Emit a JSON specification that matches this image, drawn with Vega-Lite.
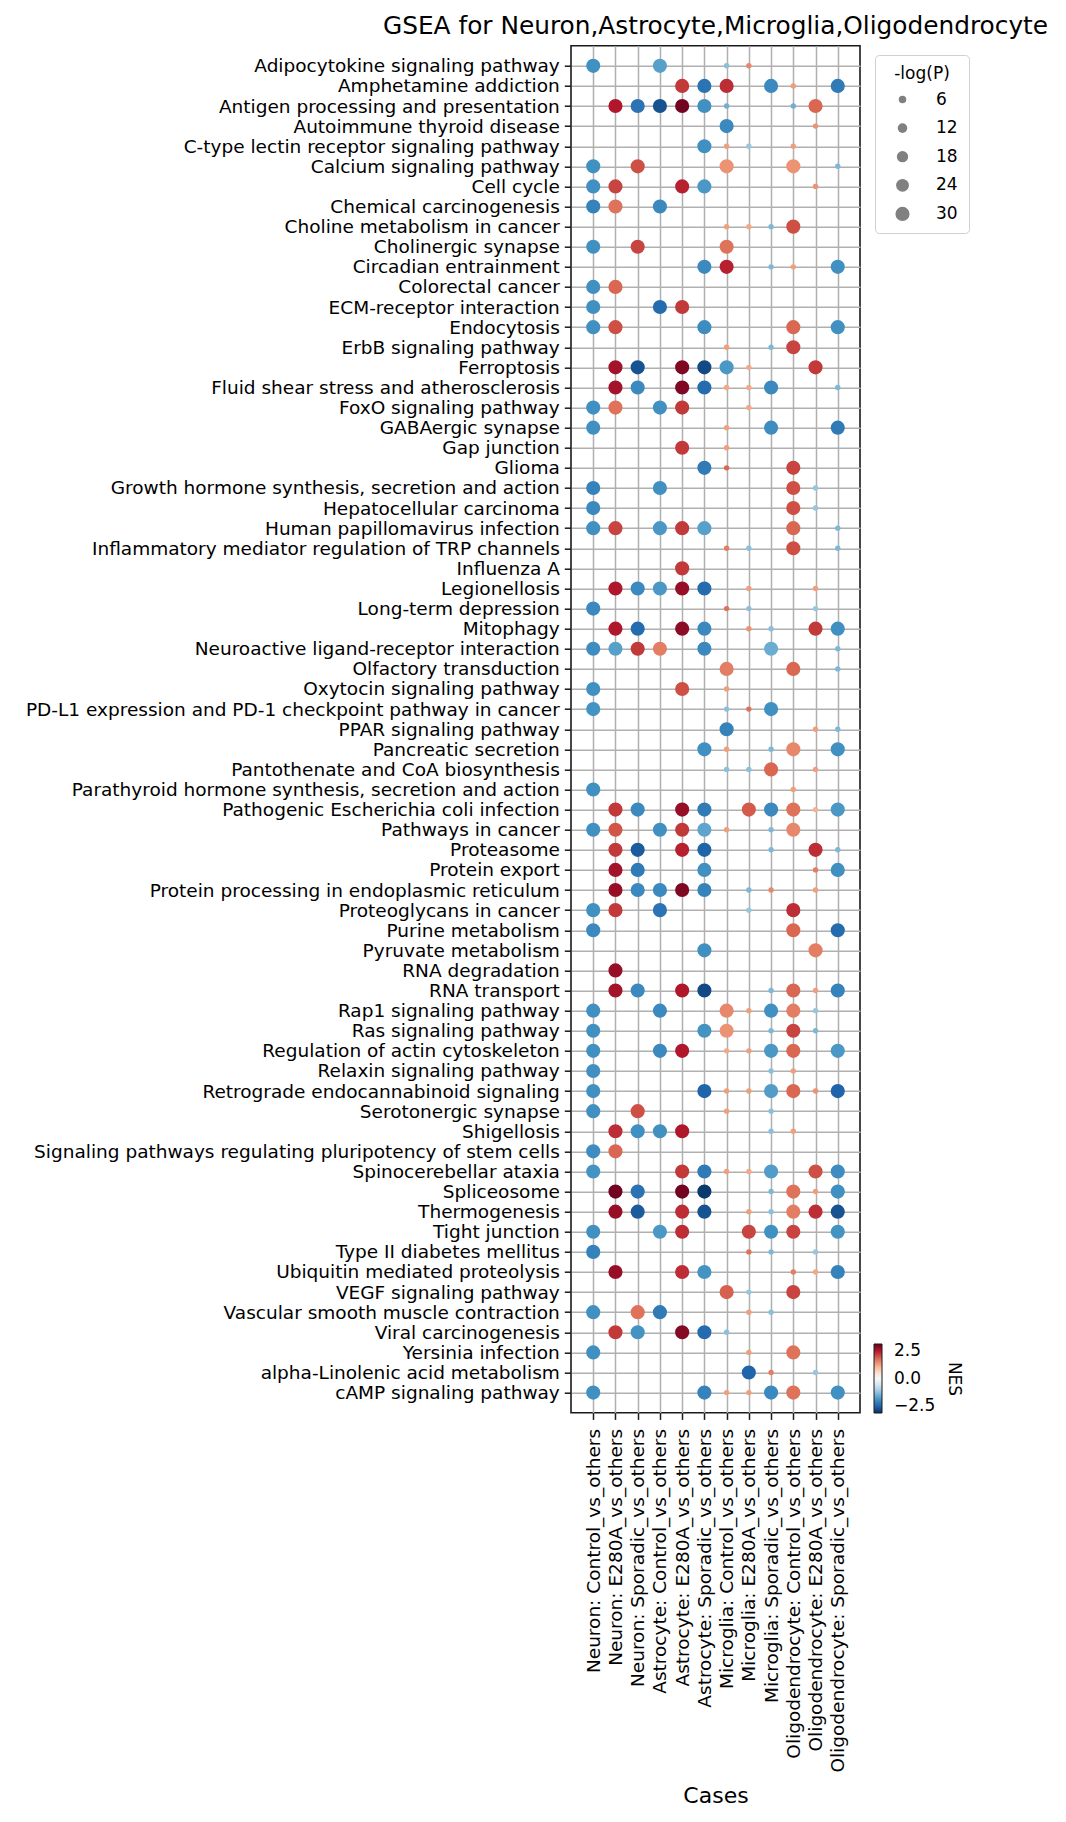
{
"$schema": "https://vega.github.io/schema/vega-lite/v6.json",
"width": 289, "height": 1367,
"autosize": {"type": "none"},
"padding": {"left": 571, "top": 45.7, "right": 206, "bottom": 409.3},
"background": "white",
"title": {"text": "GSEA for Neuron,Astrocyte,Microglia,Oligodendrocyte", "fontSize": 24.8, "font": "DejaVu Sans", "fontWeight": "normal", "color": "black", "anchor": "middle", "frame": "group", "offset": 7},
"config": {
  "font": "DejaVu Sans",
  "view": {"stroke": "#1a1a1a", "strokeWidth": 1.6},
  "axis": {"grid": true, "gridColor": "#b0b0b0", "gridWidth": 1.5, "domain": false, "ticks": true, "tickSize": 6.7, "tickColor": "#1a1a1a", "tickWidth": 1.5, "labelFont": "DejaVu Sans", "labelFontSize": 18.5, "labelColor": "black", "labelLimit": 1000, "labelOverlap": false, "zindex": 1, "titleFont": "DejaVu Sans", "titleFontWeight": "normal", "titleColor": "black"},
  "legend": {"labelFont": "DejaVu Sans", "titleFont": "DejaVu Sans", "labelColor": "black", "titleColor": "black", "titleFontWeight": "normal"}
},
"data": {"values": [
{"pathway":"Adipocytokine signaling pathway","case":"Neuron: Control_vs_others","NES":-1.9,"neglogP":30},
{"pathway":"Adipocytokine signaling pathway","case":"Astrocyte: Control_vs_others","NES":-1.7,"neglogP":30},
{"pathway":"Adipocytokine signaling pathway","case":"Microglia: Control_vs_others","NES":-1.3,"neglogP":1.5},
{"pathway":"Adipocytokine signaling pathway","case":"Microglia: E280A_vs_others","NES":1.5,"neglogP":1.5},
{"pathway":"Amphetamine addiction","case":"Astrocyte: E280A_vs_others","NES":2.2,"neglogP":30},
{"pathway":"Amphetamine addiction","case":"Astrocyte: Sporadic_vs_others","NES":-2.3,"neglogP":30},
{"pathway":"Amphetamine addiction","case":"Microglia: Control_vs_others","NES":2.3,"neglogP":30},
{"pathway":"Amphetamine addiction","case":"Microglia: Sporadic_vs_others","NES":-2.0,"neglogP":30},
{"pathway":"Amphetamine addiction","case":"Oligodendrocyte: Control_vs_others","NES":1.3,"neglogP":1.5},
{"pathway":"Amphetamine addiction","case":"Oligodendrocyte: Sporadic_vs_others","NES":-2.2,"neglogP":30},
{"pathway":"Antigen processing and presentation","case":"Neuron: E280A_vs_others","NES":2.5,"neglogP":30},
{"pathway":"Antigen processing and presentation","case":"Neuron: Sporadic_vs_others","NES":-2.3,"neglogP":30},
{"pathway":"Antigen processing and presentation","case":"Astrocyte: Control_vs_others","NES":-2.7,"neglogP":30},
{"pathway":"Antigen processing and presentation","case":"Astrocyte: E280A_vs_others","NES":3.0,"neglogP":30},
{"pathway":"Antigen processing and presentation","case":"Astrocyte: Sporadic_vs_others","NES":-1.9,"neglogP":30},
{"pathway":"Antigen processing and presentation","case":"Microglia: Control_vs_others","NES":-1.5,"neglogP":1.5},
{"pathway":"Antigen processing and presentation","case":"Oligodendrocyte: Control_vs_others","NES":-1.5,"neglogP":1.5},
{"pathway":"Antigen processing and presentation","case":"Oligodendrocyte: E280A_vs_others","NES":1.8,"neglogP":30},
{"pathway":"Autoimmune thyroid disease","case":"Microglia: Control_vs_others","NES":-2.0,"neglogP":30},
{"pathway":"Autoimmune thyroid disease","case":"Oligodendrocyte: E280A_vs_others","NES":1.4,"neglogP":1.5},
{"pathway":"C-type lectin receptor signaling pathway","case":"Astrocyte: Sporadic_vs_others","NES":-1.9,"neglogP":30},
{"pathway":"C-type lectin receptor signaling pathway","case":"Microglia: Control_vs_others","NES":1.3,"neglogP":1.5},
{"pathway":"C-type lectin receptor signaling pathway","case":"Microglia: E280A_vs_others","NES":-1.2,"neglogP":1.5},
{"pathway":"C-type lectin receptor signaling pathway","case":"Oligodendrocyte: Control_vs_others","NES":1.3,"neglogP":1.5},
{"pathway":"Calcium signaling pathway","case":"Neuron: Control_vs_others","NES":-1.9,"neglogP":30},
{"pathway":"Calcium signaling pathway","case":"Neuron: Sporadic_vs_others","NES":2.0,"neglogP":30},
{"pathway":"Calcium signaling pathway","case":"Microglia: Control_vs_others","NES":1.4,"neglogP":30},
{"pathway":"Calcium signaling pathway","case":"Oligodendrocyte: Control_vs_others","NES":1.4,"neglogP":30},
{"pathway":"Calcium signaling pathway","case":"Oligodendrocyte: Sporadic_vs_others","NES":-1.4,"neglogP":1.5},
{"pathway":"Cell cycle","case":"Neuron: Control_vs_others","NES":-1.9,"neglogP":30},
{"pathway":"Cell cycle","case":"Neuron: E280A_vs_others","NES":2.1,"neglogP":30},
{"pathway":"Cell cycle","case":"Astrocyte: E280A_vs_others","NES":2.4,"neglogP":30},
{"pathway":"Cell cycle","case":"Astrocyte: Sporadic_vs_others","NES":-1.8,"neglogP":30},
{"pathway":"Cell cycle","case":"Oligodendrocyte: E280A_vs_others","NES":1.4,"neglogP":1.5},
{"pathway":"Chemical carcinogenesis","case":"Neuron: Control_vs_others","NES":-2.1,"neglogP":30},
{"pathway":"Chemical carcinogenesis","case":"Neuron: E280A_vs_others","NES":1.7,"neglogP":30},
{"pathway":"Chemical carcinogenesis","case":"Astrocyte: Control_vs_others","NES":-2.0,"neglogP":30},
{"pathway":"Choline metabolism in cancer","case":"Microglia: Control_vs_others","NES":1.3,"neglogP":1.5},
{"pathway":"Choline metabolism in cancer","case":"Microglia: E280A_vs_others","NES":1.2,"neglogP":1.5},
{"pathway":"Choline metabolism in cancer","case":"Microglia: Sporadic_vs_others","NES":-1.4,"neglogP":1.5},
{"pathway":"Choline metabolism in cancer","case":"Oligodendrocyte: Control_vs_others","NES":2.0,"neglogP":30},
{"pathway":"Cholinergic synapse","case":"Neuron: Control_vs_others","NES":-1.9,"neglogP":30},
{"pathway":"Cholinergic synapse","case":"Neuron: Sporadic_vs_others","NES":2.1,"neglogP":30},
{"pathway":"Cholinergic synapse","case":"Microglia: Control_vs_others","NES":1.7,"neglogP":30},
{"pathway":"Circadian entrainment","case":"Astrocyte: Sporadic_vs_others","NES":-2.0,"neglogP":30},
{"pathway":"Circadian entrainment","case":"Microglia: Control_vs_others","NES":2.4,"neglogP":30},
{"pathway":"Circadian entrainment","case":"Microglia: Sporadic_vs_others","NES":-1.4,"neglogP":1.5},
{"pathway":"Circadian entrainment","case":"Oligodendrocyte: Control_vs_others","NES":1.3,"neglogP":1.5},
{"pathway":"Circadian entrainment","case":"Oligodendrocyte: Sporadic_vs_others","NES":-1.9,"neglogP":30},
{"pathway":"Colorectal cancer","case":"Neuron: Control_vs_others","NES":-1.9,"neglogP":30},
{"pathway":"Colorectal cancer","case":"Neuron: E280A_vs_others","NES":1.8,"neglogP":30},
{"pathway":"ECM-receptor interaction","case":"Neuron: Control_vs_others","NES":-1.9,"neglogP":30},
{"pathway":"ECM-receptor interaction","case":"Astrocyte: Control_vs_others","NES":-2.4,"neglogP":30},
{"pathway":"ECM-receptor interaction","case":"Astrocyte: E280A_vs_others","NES":2.2,"neglogP":30},
{"pathway":"Endocytosis","case":"Neuron: Control_vs_others","NES":-1.9,"neglogP":30},
{"pathway":"Endocytosis","case":"Neuron: E280A_vs_others","NES":2.0,"neglogP":30},
{"pathway":"Endocytosis","case":"Astrocyte: Sporadic_vs_others","NES":-1.95,"neglogP":30},
{"pathway":"Endocytosis","case":"Oligodendrocyte: Control_vs_others","NES":1.8,"neglogP":30},
{"pathway":"Endocytosis","case":"Oligodendrocyte: Sporadic_vs_others","NES":-1.9,"neglogP":30},
{"pathway":"ErbB signaling pathway","case":"Microglia: Control_vs_others","NES":1.3,"neglogP":1.5},
{"pathway":"ErbB signaling pathway","case":"Microglia: Sporadic_vs_others","NES":-1.4,"neglogP":1.5},
{"pathway":"ErbB signaling pathway","case":"Oligodendrocyte: Control_vs_others","NES":2.1,"neglogP":30},
{"pathway":"Ferroptosis","case":"Neuron: E280A_vs_others","NES":2.6,"neglogP":30},
{"pathway":"Ferroptosis","case":"Neuron: Sporadic_vs_others","NES":-2.7,"neglogP":30},
{"pathway":"Ferroptosis","case":"Astrocyte: E280A_vs_others","NES":2.9,"neglogP":30},
{"pathway":"Ferroptosis","case":"Astrocyte: Sporadic_vs_others","NES":-2.8,"neglogP":30},
{"pathway":"Ferroptosis","case":"Microglia: Control_vs_others","NES":-1.8,"neglogP":30},
{"pathway":"Ferroptosis","case":"Microglia: E280A_vs_others","NES":1.2,"neglogP":1.5},
{"pathway":"Ferroptosis","case":"Oligodendrocyte: E280A_vs_others","NES":2.2,"neglogP":30},
{"pathway":"Fluid shear stress and atherosclerosis","case":"Neuron: E280A_vs_others","NES":2.6,"neglogP":30},
{"pathway":"Fluid shear stress and atherosclerosis","case":"Neuron: Sporadic_vs_others","NES":-2.0,"neglogP":30},
{"pathway":"Fluid shear stress and atherosclerosis","case":"Astrocyte: E280A_vs_others","NES":2.9,"neglogP":30},
{"pathway":"Fluid shear stress and atherosclerosis","case":"Astrocyte: Sporadic_vs_others","NES":-2.4,"neglogP":30},
{"pathway":"Fluid shear stress and atherosclerosis","case":"Microglia: Control_vs_others","NES":1.2,"neglogP":1.5},
{"pathway":"Fluid shear stress and atherosclerosis","case":"Microglia: E280A_vs_others","NES":1.2,"neglogP":1.5},
{"pathway":"Fluid shear stress and atherosclerosis","case":"Microglia: Sporadic_vs_others","NES":-2.0,"neglogP":30},
{"pathway":"Fluid shear stress and atherosclerosis","case":"Oligodendrocyte: Sporadic_vs_others","NES":-1.4,"neglogP":1.5},
{"pathway":"FoxO signaling pathway","case":"Neuron: Control_vs_others","NES":-1.9,"neglogP":30},
{"pathway":"FoxO signaling pathway","case":"Neuron: E280A_vs_others","NES":1.7,"neglogP":30},
{"pathway":"FoxO signaling pathway","case":"Astrocyte: Control_vs_others","NES":-1.9,"neglogP":30},
{"pathway":"FoxO signaling pathway","case":"Astrocyte: E280A_vs_others","NES":2.2,"neglogP":30},
{"pathway":"FoxO signaling pathway","case":"Microglia: E280A_vs_others","NES":1.2,"neglogP":1.5},
{"pathway":"GABAergic synapse","case":"Neuron: Control_vs_others","NES":-1.9,"neglogP":30},
{"pathway":"GABAergic synapse","case":"Microglia: Control_vs_others","NES":1.3,"neglogP":1.5},
{"pathway":"GABAergic synapse","case":"Microglia: Sporadic_vs_others","NES":-1.95,"neglogP":30},
{"pathway":"GABAergic synapse","case":"Oligodendrocyte: Sporadic_vs_others","NES":-2.2,"neglogP":30},
{"pathway":"Gap junction","case":"Astrocyte: E280A_vs_others","NES":2.2,"neglogP":30},
{"pathway":"Gap junction","case":"Microglia: Control_vs_others","NES":1.3,"neglogP":1.5},
{"pathway":"Glioma","case":"Astrocyte: Sporadic_vs_others","NES":-2.2,"neglogP":30},
{"pathway":"Glioma","case":"Microglia: Control_vs_others","NES":1.8,"neglogP":1.5},
{"pathway":"Glioma","case":"Oligodendrocyte: Control_vs_others","NES":2.1,"neglogP":30},
{"pathway":"Growth hormone synthesis, secretion and action","case":"Neuron: Control_vs_others","NES":-2.1,"neglogP":30},
{"pathway":"Growth hormone synthesis, secretion and action","case":"Astrocyte: Control_vs_others","NES":-1.9,"neglogP":30},
{"pathway":"Growth hormone synthesis, secretion and action","case":"Oligodendrocyte: Control_vs_others","NES":2.0,"neglogP":30},
{"pathway":"Growth hormone synthesis, secretion and action","case":"Oligodendrocyte: E280A_vs_others","NES":-1.2,"neglogP":1.5},
{"pathway":"Hepatocellular carcinoma","case":"Neuron: Control_vs_others","NES":-2.0,"neglogP":30},
{"pathway":"Hepatocellular carcinoma","case":"Oligodendrocyte: Control_vs_others","NES":2.0,"neglogP":30},
{"pathway":"Hepatocellular carcinoma","case":"Oligodendrocyte: E280A_vs_others","NES":-1.2,"neglogP":1.5},
{"pathway":"Human papillomavirus infection","case":"Neuron: Control_vs_others","NES":-1.9,"neglogP":30},
{"pathway":"Human papillomavirus infection","case":"Neuron: E280A_vs_others","NES":2.1,"neglogP":30},
{"pathway":"Human papillomavirus infection","case":"Astrocyte: Control_vs_others","NES":-1.8,"neglogP":30},
{"pathway":"Human papillomavirus infection","case":"Astrocyte: E280A_vs_others","NES":2.2,"neglogP":30},
{"pathway":"Human papillomavirus infection","case":"Astrocyte: Sporadic_vs_others","NES":-1.7,"neglogP":30},
{"pathway":"Human papillomavirus infection","case":"Oligodendrocyte: Control_vs_others","NES":1.8,"neglogP":30},
{"pathway":"Human papillomavirus infection","case":"Oligodendrocyte: Sporadic_vs_others","NES":-1.4,"neglogP":1.5},
{"pathway":"Inflammatory mediator regulation of TRP channels","case":"Microglia: Control_vs_others","NES":1.6,"neglogP":1.5},
{"pathway":"Inflammatory mediator regulation of TRP channels","case":"Microglia: E280A_vs_others","NES":-1.3,"neglogP":1.5},
{"pathway":"Inflammatory mediator regulation of TRP channels","case":"Oligodendrocyte: Control_vs_others","NES":2.0,"neglogP":30},
{"pathway":"Inflammatory mediator regulation of TRP channels","case":"Oligodendrocyte: Sporadic_vs_others","NES":-1.4,"neglogP":1.5},
{"pathway":"Influenza A","case":"Astrocyte: E280A_vs_others","NES":2.2,"neglogP":30},
{"pathway":"Legionellosis","case":"Neuron: E280A_vs_others","NES":2.5,"neglogP":30},
{"pathway":"Legionellosis","case":"Neuron: Sporadic_vs_others","NES":-2.0,"neglogP":30},
{"pathway":"Legionellosis","case":"Astrocyte: Control_vs_others","NES":-1.8,"neglogP":30},
{"pathway":"Legionellosis","case":"Astrocyte: E280A_vs_others","NES":2.7,"neglogP":30},
{"pathway":"Legionellosis","case":"Astrocyte: Sporadic_vs_others","NES":-2.4,"neglogP":30},
{"pathway":"Legionellosis","case":"Microglia: E280A_vs_others","NES":1.3,"neglogP":1.5},
{"pathway":"Legionellosis","case":"Oligodendrocyte: E280A_vs_others","NES":1.3,"neglogP":1.5},
{"pathway":"Long-term depression","case":"Neuron: Control_vs_others","NES":-2.0,"neglogP":30},
{"pathway":"Long-term depression","case":"Microglia: Control_vs_others","NES":1.7,"neglogP":1.5},
{"pathway":"Long-term depression","case":"Microglia: E280A_vs_others","NES":-1.3,"neglogP":1.5},
{"pathway":"Long-term depression","case":"Oligodendrocyte: E280A_vs_others","NES":-1.2,"neglogP":1.5},
{"pathway":"Mitophagy","case":"Neuron: E280A_vs_others","NES":2.5,"neglogP":30},
{"pathway":"Mitophagy","case":"Neuron: Sporadic_vs_others","NES":-2.4,"neglogP":30},
{"pathway":"Mitophagy","case":"Astrocyte: E280A_vs_others","NES":2.8,"neglogP":30},
{"pathway":"Mitophagy","case":"Astrocyte: Sporadic_vs_others","NES":-2.0,"neglogP":30},
{"pathway":"Mitophagy","case":"Microglia: E280A_vs_others","NES":1.4,"neglogP":1.5},
{"pathway":"Mitophagy","case":"Microglia: Sporadic_vs_others","NES":-1.3,"neglogP":1.5},
{"pathway":"Mitophagy","case":"Oligodendrocyte: E280A_vs_others","NES":2.2,"neglogP":30},
{"pathway":"Mitophagy","case":"Oligodendrocyte: Sporadic_vs_others","NES":-1.9,"neglogP":30},
{"pathway":"Neuroactive ligand-receptor interaction","case":"Neuron: Control_vs_others","NES":-1.95,"neglogP":30},
{"pathway":"Neuroactive ligand-receptor interaction","case":"Neuron: E280A_vs_others","NES":-1.7,"neglogP":30},
{"pathway":"Neuroactive ligand-receptor interaction","case":"Neuron: Sporadic_vs_others","NES":2.2,"neglogP":30},
{"pathway":"Neuroactive ligand-receptor interaction","case":"Astrocyte: Control_vs_others","NES":1.6,"neglogP":30},
{"pathway":"Neuroactive ligand-receptor interaction","case":"Astrocyte: Sporadic_vs_others","NES":-2.0,"neglogP":30},
{"pathway":"Neuroactive ligand-receptor interaction","case":"Microglia: Sporadic_vs_others","NES":-1.55,"neglogP":30},
{"pathway":"Neuroactive ligand-receptor interaction","case":"Oligodendrocyte: Sporadic_vs_others","NES":-1.4,"neglogP":1.5},
{"pathway":"Olfactory transduction","case":"Microglia: Control_vs_others","NES":1.6,"neglogP":30},
{"pathway":"Olfactory transduction","case":"Oligodendrocyte: Control_vs_others","NES":1.8,"neglogP":30},
{"pathway":"Olfactory transduction","case":"Oligodendrocyte: Sporadic_vs_others","NES":-1.4,"neglogP":1.5},
{"pathway":"Oxytocin signaling pathway","case":"Neuron: Control_vs_others","NES":-1.9,"neglogP":30},
{"pathway":"Oxytocin signaling pathway","case":"Astrocyte: E280A_vs_others","NES":2.0,"neglogP":30},
{"pathway":"Oxytocin signaling pathway","case":"Microglia: Control_vs_others","NES":1.3,"neglogP":1.5},
{"pathway":"PD-L1 expression and PD-1 checkpoint pathway in cancer","case":"Neuron: Control_vs_others","NES":-1.85,"neglogP":30},
{"pathway":"PD-L1 expression and PD-1 checkpoint pathway in cancer","case":"Microglia: Control_vs_others","NES":-1.3,"neglogP":1.5},
{"pathway":"PD-L1 expression and PD-1 checkpoint pathway in cancer","case":"Microglia: E280A_vs_others","NES":1.7,"neglogP":1.5},
{"pathway":"PD-L1 expression and PD-1 checkpoint pathway in cancer","case":"Microglia: Sporadic_vs_others","NES":-1.9,"neglogP":30},
{"pathway":"PPAR signaling pathway","case":"Microglia: Control_vs_others","NES":-2.1,"neglogP":30},
{"pathway":"PPAR signaling pathway","case":"Oligodendrocyte: E280A_vs_others","NES":1.3,"neglogP":1.5},
{"pathway":"PPAR signaling pathway","case":"Oligodendrocyte: Sporadic_vs_others","NES":-1.4,"neglogP":1.5},
{"pathway":"Pancreatic secretion","case":"Astrocyte: Sporadic_vs_others","NES":-1.9,"neglogP":30},
{"pathway":"Pancreatic secretion","case":"Microglia: Control_vs_others","NES":1.3,"neglogP":1.5},
{"pathway":"Pancreatic secretion","case":"Microglia: Sporadic_vs_others","NES":-1.4,"neglogP":1.5},
{"pathway":"Pancreatic secretion","case":"Oligodendrocyte: Control_vs_others","NES":1.5,"neglogP":30},
{"pathway":"Pancreatic secretion","case":"Oligodendrocyte: Sporadic_vs_others","NES":-1.9,"neglogP":30},
{"pathway":"Pantothenate and CoA biosynthesis","case":"Microglia: Control_vs_others","NES":-1.3,"neglogP":1.5},
{"pathway":"Pantothenate and CoA biosynthesis","case":"Microglia: E280A_vs_others","NES":-1.3,"neglogP":1.5},
{"pathway":"Pantothenate and CoA biosynthesis","case":"Microglia: Sporadic_vs_others","NES":1.8,"neglogP":30},
{"pathway":"Pantothenate and CoA biosynthesis","case":"Oligodendrocyte: E280A_vs_others","NES":1.3,"neglogP":1.5},
{"pathway":"Parathyroid hormone synthesis, secretion and action","case":"Neuron: Control_vs_others","NES":-1.9,"neglogP":30},
{"pathway":"Parathyroid hormone synthesis, secretion and action","case":"Oligodendrocyte: Control_vs_others","NES":1.3,"neglogP":1.5},
{"pathway":"Pathogenic Escherichia coli infection","case":"Neuron: E280A_vs_others","NES":2.2,"neglogP":30},
{"pathway":"Pathogenic Escherichia coli infection","case":"Neuron: Sporadic_vs_others","NES":-2.0,"neglogP":30},
{"pathway":"Pathogenic Escherichia coli infection","case":"Astrocyte: E280A_vs_others","NES":2.7,"neglogP":30},
{"pathway":"Pathogenic Escherichia coli infection","case":"Astrocyte: Sporadic_vs_others","NES":-2.2,"neglogP":30},
{"pathway":"Pathogenic Escherichia coli infection","case":"Microglia: E280A_vs_others","NES":1.9,"neglogP":30},
{"pathway":"Pathogenic Escherichia coli infection","case":"Microglia: Sporadic_vs_others","NES":-2.0,"neglogP":30},
{"pathway":"Pathogenic Escherichia coli infection","case":"Oligodendrocyte: Control_vs_others","NES":1.7,"neglogP":30},
{"pathway":"Pathogenic Escherichia coli infection","case":"Oligodendrocyte: E280A_vs_others","NES":1.1,"neglogP":1.5},
{"pathway":"Pathogenic Escherichia coli infection","case":"Oligodendrocyte: Sporadic_vs_others","NES":-1.8,"neglogP":30},
{"pathway":"Pathways in cancer","case":"Neuron: Control_vs_others","NES":-1.9,"neglogP":30},
{"pathway":"Pathways in cancer","case":"Neuron: E280A_vs_others","NES":1.95,"neglogP":30},
{"pathway":"Pathways in cancer","case":"Astrocyte: Control_vs_others","NES":-1.9,"neglogP":30},
{"pathway":"Pathways in cancer","case":"Astrocyte: E280A_vs_others","NES":2.2,"neglogP":30},
{"pathway":"Pathways in cancer","case":"Astrocyte: Sporadic_vs_others","NES":-1.65,"neglogP":30},
{"pathway":"Pathways in cancer","case":"Microglia: Control_vs_others","NES":1.3,"neglogP":1.5},
{"pathway":"Pathways in cancer","case":"Microglia: Sporadic_vs_others","NES":-1.4,"neglogP":1.5},
{"pathway":"Pathways in cancer","case":"Oligodendrocyte: Control_vs_others","NES":1.5,"neglogP":30},
{"pathway":"Proteasome","case":"Neuron: E280A_vs_others","NES":2.2,"neglogP":30},
{"pathway":"Proteasome","case":"Neuron: Sporadic_vs_others","NES":-2.6,"neglogP":30},
{"pathway":"Proteasome","case":"Astrocyte: E280A_vs_others","NES":2.4,"neglogP":30},
{"pathway":"Proteasome","case":"Astrocyte: Sporadic_vs_others","NES":-2.5,"neglogP":30},
{"pathway":"Proteasome","case":"Microglia: Sporadic_vs_others","NES":-1.4,"neglogP":1.5},
{"pathway":"Proteasome","case":"Oligodendrocyte: E280A_vs_others","NES":2.3,"neglogP":30},
{"pathway":"Proteasome","case":"Oligodendrocyte: Sporadic_vs_others","NES":-1.4,"neglogP":1.5},
{"pathway":"Protein export","case":"Neuron: E280A_vs_others","NES":2.6,"neglogP":30},
{"pathway":"Protein export","case":"Neuron: Sporadic_vs_others","NES":-2.2,"neglogP":30},
{"pathway":"Protein export","case":"Astrocyte: Sporadic_vs_others","NES":-1.9,"neglogP":30},
{"pathway":"Protein export","case":"Oligodendrocyte: E280A_vs_others","NES":1.6,"neglogP":1.5},
{"pathway":"Protein export","case":"Oligodendrocyte: Sporadic_vs_others","NES":-1.9,"neglogP":30},
{"pathway":"Protein processing in endoplasmic reticulum","case":"Neuron: E280A_vs_others","NES":2.7,"neglogP":30},
{"pathway":"Protein processing in endoplasmic reticulum","case":"Neuron: Sporadic_vs_others","NES":-2.0,"neglogP":30},
{"pathway":"Protein processing in endoplasmic reticulum","case":"Astrocyte: Control_vs_others","NES":-2.0,"neglogP":30},
{"pathway":"Protein processing in endoplasmic reticulum","case":"Astrocyte: E280A_vs_others","NES":2.9,"neglogP":30},
{"pathway":"Protein processing in endoplasmic reticulum","case":"Astrocyte: Sporadic_vs_others","NES":-2.1,"neglogP":30},
{"pathway":"Protein processing in endoplasmic reticulum","case":"Microglia: E280A_vs_others","NES":-1.4,"neglogP":1.5},
{"pathway":"Protein processing in endoplasmic reticulum","case":"Microglia: Sporadic_vs_others","NES":1.5,"neglogP":1.5},
{"pathway":"Protein processing in endoplasmic reticulum","case":"Oligodendrocyte: E280A_vs_others","NES":1.3,"neglogP":1.5},
{"pathway":"Proteoglycans in cancer","case":"Neuron: Control_vs_others","NES":-1.9,"neglogP":30},
{"pathway":"Proteoglycans in cancer","case":"Neuron: E280A_vs_others","NES":2.2,"neglogP":30},
{"pathway":"Proteoglycans in cancer","case":"Astrocyte: Control_vs_others","NES":-2.3,"neglogP":30},
{"pathway":"Proteoglycans in cancer","case":"Microglia: E280A_vs_others","NES":-1.2,"neglogP":1.5},
{"pathway":"Proteoglycans in cancer","case":"Oligodendrocyte: Control_vs_others","NES":2.3,"neglogP":30},
{"pathway":"Purine metabolism","case":"Neuron: Control_vs_others","NES":-2.0,"neglogP":30},
{"pathway":"Purine metabolism","case":"Oligodendrocyte: Control_vs_others","NES":1.8,"neglogP":30},
{"pathway":"Purine metabolism","case":"Oligodendrocyte: Sporadic_vs_others","NES":-2.4,"neglogP":30},
{"pathway":"Pyruvate metabolism","case":"Astrocyte: Sporadic_vs_others","NES":-1.9,"neglogP":30},
{"pathway":"Pyruvate metabolism","case":"Oligodendrocyte: E280A_vs_others","NES":1.6,"neglogP":30},
{"pathway":"RNA degradation","case":"Neuron: E280A_vs_others","NES":2.7,"neglogP":30},
{"pathway":"RNA transport","case":"Neuron: E280A_vs_others","NES":2.6,"neglogP":30},
{"pathway":"RNA transport","case":"Neuron: Sporadic_vs_others","NES":-2.0,"neglogP":30},
{"pathway":"RNA transport","case":"Astrocyte: E280A_vs_others","NES":2.5,"neglogP":30},
{"pathway":"RNA transport","case":"Astrocyte: Sporadic_vs_others","NES":-2.8,"neglogP":30},
{"pathway":"RNA transport","case":"Microglia: Sporadic_vs_others","NES":-1.4,"neglogP":1.5},
{"pathway":"RNA transport","case":"Oligodendrocyte: Control_vs_others","NES":1.8,"neglogP":30},
{"pathway":"RNA transport","case":"Oligodendrocyte: E280A_vs_others","NES":1.3,"neglogP":1.5},
{"pathway":"RNA transport","case":"Oligodendrocyte: Sporadic_vs_others","NES":-2.1,"neglogP":30},
{"pathway":"Rap1 signaling pathway","case":"Neuron: Control_vs_others","NES":-1.9,"neglogP":30},
{"pathway":"Rap1 signaling pathway","case":"Astrocyte: Control_vs_others","NES":-2.0,"neglogP":30},
{"pathway":"Rap1 signaling pathway","case":"Microglia: Control_vs_others","NES":1.5,"neglogP":30},
{"pathway":"Rap1 signaling pathway","case":"Microglia: E280A_vs_others","NES":1.3,"neglogP":1.5},
{"pathway":"Rap1 signaling pathway","case":"Microglia: Sporadic_vs_others","NES":-1.9,"neglogP":30},
{"pathway":"Rap1 signaling pathway","case":"Oligodendrocyte: Control_vs_others","NES":1.6,"neglogP":30},
{"pathway":"Rap1 signaling pathway","case":"Oligodendrocyte: E280A_vs_others","NES":-1.2,"neglogP":1.5},
{"pathway":"Ras signaling pathway","case":"Neuron: Control_vs_others","NES":-1.9,"neglogP":30},
{"pathway":"Ras signaling pathway","case":"Astrocyte: Sporadic_vs_others","NES":-1.85,"neglogP":30},
{"pathway":"Ras signaling pathway","case":"Microglia: Control_vs_others","NES":1.4,"neglogP":30},
{"pathway":"Ras signaling pathway","case":"Microglia: Sporadic_vs_others","NES":-1.4,"neglogP":1.5},
{"pathway":"Ras signaling pathway","case":"Oligodendrocyte: Control_vs_others","NES":2.1,"neglogP":30},
{"pathway":"Ras signaling pathway","case":"Oligodendrocyte: E280A_vs_others","NES":-1.4,"neglogP":1.5},
{"pathway":"Regulation of actin cytoskeleton","case":"Neuron: Control_vs_others","NES":-1.9,"neglogP":30},
{"pathway":"Regulation of actin cytoskeleton","case":"Astrocyte: Control_vs_others","NES":-2.0,"neglogP":30},
{"pathway":"Regulation of actin cytoskeleton","case":"Astrocyte: E280A_vs_others","NES":2.5,"neglogP":30},
{"pathway":"Regulation of actin cytoskeleton","case":"Microglia: Control_vs_others","NES":1.2,"neglogP":1.5},
{"pathway":"Regulation of actin cytoskeleton","case":"Microglia: E280A_vs_others","NES":1.3,"neglogP":1.5},
{"pathway":"Regulation of actin cytoskeleton","case":"Microglia: Sporadic_vs_others","NES":-1.8,"neglogP":30},
{"pathway":"Regulation of actin cytoskeleton","case":"Oligodendrocyte: Control_vs_others","NES":1.8,"neglogP":30},
{"pathway":"Regulation of actin cytoskeleton","case":"Oligodendrocyte: Sporadic_vs_others","NES":-1.8,"neglogP":30},
{"pathway":"Relaxin signaling pathway","case":"Neuron: Control_vs_others","NES":-1.9,"neglogP":30},
{"pathway":"Relaxin signaling pathway","case":"Microglia: Sporadic_vs_others","NES":-1.3,"neglogP":1.5},
{"pathway":"Relaxin signaling pathway","case":"Oligodendrocyte: Control_vs_others","NES":1.3,"neglogP":1.5},
{"pathway":"Retrograde endocannabinoid signaling","case":"Neuron: Control_vs_others","NES":-1.9,"neglogP":30},
{"pathway":"Retrograde endocannabinoid signaling","case":"Astrocyte: Sporadic_vs_others","NES":-2.5,"neglogP":30},
{"pathway":"Retrograde endocannabinoid signaling","case":"Microglia: Control_vs_others","NES":1.3,"neglogP":1.5},
{"pathway":"Retrograde endocannabinoid signaling","case":"Microglia: E280A_vs_others","NES":1.3,"neglogP":1.5},
{"pathway":"Retrograde endocannabinoid signaling","case":"Microglia: Sporadic_vs_others","NES":-1.75,"neglogP":30},
{"pathway":"Retrograde endocannabinoid signaling","case":"Oligodendrocyte: Control_vs_others","NES":1.8,"neglogP":30},
{"pathway":"Retrograde endocannabinoid signaling","case":"Oligodendrocyte: E280A_vs_others","NES":1.4,"neglogP":1.5},
{"pathway":"Retrograde endocannabinoid signaling","case":"Oligodendrocyte: Sporadic_vs_others","NES":-2.5,"neglogP":30},
{"pathway":"Serotonergic synapse","case":"Neuron: Control_vs_others","NES":-1.9,"neglogP":30},
{"pathway":"Serotonergic synapse","case":"Neuron: Sporadic_vs_others","NES":2.0,"neglogP":30},
{"pathway":"Serotonergic synapse","case":"Microglia: Control_vs_others","NES":1.3,"neglogP":1.5},
{"pathway":"Serotonergic synapse","case":"Microglia: Sporadic_vs_others","NES":-1.3,"neglogP":1.5},
{"pathway":"Shigellosis","case":"Neuron: E280A_vs_others","NES":2.3,"neglogP":30},
{"pathway":"Shigellosis","case":"Neuron: Sporadic_vs_others","NES":-1.9,"neglogP":30},
{"pathway":"Shigellosis","case":"Astrocyte: Control_vs_others","NES":-1.9,"neglogP":30},
{"pathway":"Shigellosis","case":"Astrocyte: E280A_vs_others","NES":2.5,"neglogP":30},
{"pathway":"Shigellosis","case":"Microglia: Sporadic_vs_others","NES":-1.3,"neglogP":1.5},
{"pathway":"Shigellosis","case":"Oligodendrocyte: Control_vs_others","NES":1.3,"neglogP":1.5},
{"pathway":"Signaling pathways regulating pluripotency of stem cells","case":"Neuron: Control_vs_others","NES":-1.95,"neglogP":30},
{"pathway":"Signaling pathways regulating pluripotency of stem cells","case":"Neuron: E280A_vs_others","NES":1.8,"neglogP":30},
{"pathway":"Spinocerebellar ataxia","case":"Neuron: Control_vs_others","NES":-1.85,"neglogP":30},
{"pathway":"Spinocerebellar ataxia","case":"Astrocyte: E280A_vs_others","NES":2.2,"neglogP":30},
{"pathway":"Spinocerebellar ataxia","case":"Astrocyte: Sporadic_vs_others","NES":-2.2,"neglogP":30},
{"pathway":"Spinocerebellar ataxia","case":"Microglia: Control_vs_others","NES":1.3,"neglogP":1.5},
{"pathway":"Spinocerebellar ataxia","case":"Microglia: E280A_vs_others","NES":1.2,"neglogP":1.5},
{"pathway":"Spinocerebellar ataxia","case":"Microglia: Sporadic_vs_others","NES":-1.75,"neglogP":30},
{"pathway":"Spinocerebellar ataxia","case":"Oligodendrocyte: E280A_vs_others","NES":2.0,"neglogP":30},
{"pathway":"Spinocerebellar ataxia","case":"Oligodendrocyte: Sporadic_vs_others","NES":-1.95,"neglogP":30},
{"pathway":"Spliceosome","case":"Neuron: E280A_vs_others","NES":3.0,"neglogP":30},
{"pathway":"Spliceosome","case":"Neuron: Sporadic_vs_others","NES":-2.3,"neglogP":30},
{"pathway":"Spliceosome","case":"Astrocyte: E280A_vs_others","NES":3.0,"neglogP":30},
{"pathway":"Spliceosome","case":"Astrocyte: Sporadic_vs_others","NES":-3.0,"neglogP":30},
{"pathway":"Spliceosome","case":"Microglia: Sporadic_vs_others","NES":-1.4,"neglogP":1.5},
{"pathway":"Spliceosome","case":"Oligodendrocyte: Control_vs_others","NES":1.7,"neglogP":30},
{"pathway":"Spliceosome","case":"Oligodendrocyte: E280A_vs_others","NES":1.3,"neglogP":1.5},
{"pathway":"Spliceosome","case":"Oligodendrocyte: Sporadic_vs_others","NES":-1.9,"neglogP":30},
{"pathway":"Thermogenesis","case":"Neuron: E280A_vs_others","NES":2.7,"neglogP":30},
{"pathway":"Thermogenesis","case":"Neuron: Sporadic_vs_others","NES":-2.6,"neglogP":30},
{"pathway":"Thermogenesis","case":"Astrocyte: E280A_vs_others","NES":2.3,"neglogP":30},
{"pathway":"Thermogenesis","case":"Astrocyte: Sporadic_vs_others","NES":-2.7,"neglogP":30},
{"pathway":"Thermogenesis","case":"Microglia: E280A_vs_others","NES":1.3,"neglogP":1.5},
{"pathway":"Thermogenesis","case":"Microglia: Sporadic_vs_others","NES":-1.3,"neglogP":1.5},
{"pathway":"Thermogenesis","case":"Oligodendrocyte: Control_vs_others","NES":1.6,"neglogP":30},
{"pathway":"Thermogenesis","case":"Oligodendrocyte: E280A_vs_others","NES":2.3,"neglogP":30},
{"pathway":"Thermogenesis","case":"Oligodendrocyte: Sporadic_vs_others","NES":-2.7,"neglogP":30},
{"pathway":"Tight junction","case":"Neuron: Control_vs_others","NES":-1.9,"neglogP":30},
{"pathway":"Tight junction","case":"Astrocyte: Control_vs_others","NES":-1.8,"neglogP":30},
{"pathway":"Tight junction","case":"Astrocyte: E280A_vs_others","NES":2.3,"neglogP":30},
{"pathway":"Tight junction","case":"Microglia: E280A_vs_others","NES":2.1,"neglogP":30},
{"pathway":"Tight junction","case":"Microglia: Sporadic_vs_others","NES":-1.9,"neglogP":30},
{"pathway":"Tight junction","case":"Oligodendrocyte: Control_vs_others","NES":2.1,"neglogP":30},
{"pathway":"Tight junction","case":"Oligodendrocyte: Sporadic_vs_others","NES":-1.85,"neglogP":30},
{"pathway":"Type II diabetes mellitus","case":"Neuron: Control_vs_others","NES":-2.1,"neglogP":30},
{"pathway":"Type II diabetes mellitus","case":"Microglia: E280A_vs_others","NES":1.7,"neglogP":1.5},
{"pathway":"Type II diabetes mellitus","case":"Microglia: Sporadic_vs_others","NES":-1.4,"neglogP":1.5},
{"pathway":"Type II diabetes mellitus","case":"Oligodendrocyte: E280A_vs_others","NES":-1.2,"neglogP":1.5},
{"pathway":"Ubiquitin mediated proteolysis","case":"Neuron: E280A_vs_others","NES":2.7,"neglogP":30},
{"pathway":"Ubiquitin mediated proteolysis","case":"Astrocyte: E280A_vs_others","NES":2.3,"neglogP":30},
{"pathway":"Ubiquitin mediated proteolysis","case":"Astrocyte: Sporadic_vs_others","NES":-1.85,"neglogP":30},
{"pathway":"Ubiquitin mediated proteolysis","case":"Oligodendrocyte: Control_vs_others","NES":1.6,"neglogP":1.5},
{"pathway":"Ubiquitin mediated proteolysis","case":"Oligodendrocyte: E280A_vs_others","NES":1.2,"neglogP":1.5},
{"pathway":"Ubiquitin mediated proteolysis","case":"Oligodendrocyte: Sporadic_vs_others","NES":-2.1,"neglogP":30},
{"pathway":"VEGF signaling pathway","case":"Microglia: Control_vs_others","NES":1.85,"neglogP":30},
{"pathway":"VEGF signaling pathway","case":"Microglia: E280A_vs_others","NES":-1.2,"neglogP":1.5},
{"pathway":"VEGF signaling pathway","case":"Oligodendrocyte: Control_vs_others","NES":2.1,"neglogP":30},
{"pathway":"Vascular smooth muscle contraction","case":"Neuron: Control_vs_others","NES":-1.9,"neglogP":30},
{"pathway":"Vascular smooth muscle contraction","case":"Neuron: Sporadic_vs_others","NES":1.7,"neglogP":30},
{"pathway":"Vascular smooth muscle contraction","case":"Astrocyte: Control_vs_others","NES":-2.2,"neglogP":30},
{"pathway":"Vascular smooth muscle contraction","case":"Microglia: E280A_vs_others","NES":1.3,"neglogP":1.5},
{"pathway":"Vascular smooth muscle contraction","case":"Microglia: Sporadic_vs_others","NES":-1.3,"neglogP":1.5},
{"pathway":"Viral carcinogenesis","case":"Neuron: E280A_vs_others","NES":2.2,"neglogP":30},
{"pathway":"Viral carcinogenesis","case":"Neuron: Sporadic_vs_others","NES":-1.85,"neglogP":30},
{"pathway":"Viral carcinogenesis","case":"Astrocyte: E280A_vs_others","NES":2.85,"neglogP":30},
{"pathway":"Viral carcinogenesis","case":"Astrocyte: Sporadic_vs_others","NES":-2.4,"neglogP":30},
{"pathway":"Viral carcinogenesis","case":"Microglia: Control_vs_others","NES":-1.3,"neglogP":1.5},
{"pathway":"Yersinia infection","case":"Neuron: Control_vs_others","NES":-1.9,"neglogP":30},
{"pathway":"Yersinia infection","case":"Microglia: E280A_vs_others","NES":1.3,"neglogP":1.5},
{"pathway":"Yersinia infection","case":"Oligodendrocyte: Control_vs_others","NES":1.7,"neglogP":30},
{"pathway":"alpha-Linolenic acid metabolism","case":"Microglia: E280A_vs_others","NES":-2.5,"neglogP":30},
{"pathway":"alpha-Linolenic acid metabolism","case":"Microglia: Sporadic_vs_others","NES":1.6,"neglogP":1.5},
{"pathway":"alpha-Linolenic acid metabolism","case":"Oligodendrocyte: E280A_vs_others","NES":-1.2,"neglogP":1.5},
{"pathway":"cAMP signaling pathway","case":"Neuron: Control_vs_others","NES":-1.9,"neglogP":30},
{"pathway":"cAMP signaling pathway","case":"Astrocyte: Sporadic_vs_others","NES":-2.1,"neglogP":30},
{"pathway":"cAMP signaling pathway","case":"Microglia: Control_vs_others","NES":1.3,"neglogP":1.5},
{"pathway":"cAMP signaling pathway","case":"Microglia: E280A_vs_others","NES":1.3,"neglogP":1.5},
{"pathway":"cAMP signaling pathway","case":"Microglia: Sporadic_vs_others","NES":-2.0,"neglogP":30},
{"pathway":"cAMP signaling pathway","case":"Oligodendrocyte: Control_vs_others","NES":1.7,"neglogP":30},
{"pathway":"cAMP signaling pathway","case":"Oligodendrocyte: Sporadic_vs_others","NES":-1.9,"neglogP":30}
]},
"mark": {"type": "circle", "opacity": 1, "strokeWidth": 0},
"encoding": {
  "x": {"field": "case", "type": "nominal",
    "scale": {"type": "point", "padding": 1, "domain": ["Neuron: Control_vs_others","Neuron: E280A_vs_others","Neuron: Sporadic_vs_others","Astrocyte: Control_vs_others","Astrocyte: E280A_vs_others","Astrocyte: Sporadic_vs_others","Microglia: Control_vs_others","Microglia: E280A_vs_others","Microglia: Sporadic_vs_others","Oligodendrocyte: Control_vs_others","Oligodendrocyte: E280A_vs_others","Oligodendrocyte: Sporadic_vs_others"]},
    "axis": {"title": "Cases", "titleFontSize": 22, "titleY": 390, "titleBaseline": "alphabetic", "labelAngle": 270, "labelAlign": "right", "labelBaseline": "middle", "labelPadding": 9}},
  "y": {"field": "pathway", "type": "nominal",
    "scale": {"type": "point", "padding": 1, "domain": ["Adipocytokine signaling pathway","Amphetamine addiction","Antigen processing and presentation","Autoimmune thyroid disease","C-type lectin receptor signaling pathway","Calcium signaling pathway","Cell cycle","Chemical carcinogenesis","Choline metabolism in cancer","Cholinergic synapse","Circadian entrainment","Colorectal cancer","ECM-receptor interaction","Endocytosis","ErbB signaling pathway","Ferroptosis","Fluid shear stress and atherosclerosis","FoxO signaling pathway","GABAergic synapse","Gap junction","Glioma","Growth hormone synthesis, secretion and action","Hepatocellular carcinoma","Human papillomavirus infection","Inflammatory mediator regulation of TRP channels","Influenza A","Legionellosis","Long-term depression","Mitophagy","Neuroactive ligand-receptor interaction","Olfactory transduction","Oxytocin signaling pathway","PD-L1 expression and PD-1 checkpoint pathway in cancer","PPAR signaling pathway","Pancreatic secretion","Pantothenate and CoA biosynthesis","Parathyroid hormone synthesis, secretion and action","Pathogenic Escherichia coli infection","Pathways in cancer","Proteasome","Protein export","Protein processing in endoplasmic reticulum","Proteoglycans in cancer","Purine metabolism","Pyruvate metabolism","RNA degradation","RNA transport","Rap1 signaling pathway","Ras signaling pathway","Regulation of actin cytoskeleton","Relaxin signaling pathway","Retrograde endocannabinoid signaling","Serotonergic synapse","Shigellosis","Signaling pathways regulating pluripotency of stem cells","Spinocerebellar ataxia","Spliceosome","Thermogenesis","Tight junction","Type II diabetes mellitus","Ubiquitin mediated proteolysis","VEGF signaling pathway","Vascular smooth muscle contraction","Viral carcinogenesis","Yersinia infection","alpha-Linolenic acid metabolism","cAMP signaling pathway"]},
    "axis": {"title": null, "labelPadding": 5}},
  "color": {"field": "NES", "type": "quantitative",
    "scale": {"domain": [-3.1, -2.48, -1.86, -1.24, -0.62, 0, 0.62, 1.24, 1.86, 2.48, 3.1], "range": ["#053061","#2166ac","#4393c3","#92c5de","#d1e5f0","#f7f7f7","#fddbc7","#f4a582","#d6604d","#b2182b","#67001f"], "interpolate": "rgb"},
    "legend": {"orient": "none", "legendX": 303, "legendY": 1298.3, "direction": "vertical", "gradientLength": 69, "gradientThickness": 8, "values": [-2.5, 0, 2.5], "format": ".1f", "labelFontSize": 17, "labelOffset": 12, "title": "NES", "titleOrient": "right", "titleFontSize": 17, "titlePadding": 10, "titleAnchor": "middle", "gradientStrokeColor": "#1a1a1a", "gradientStrokeWidth": 1, "padding": 0,
      "encode": {"title": {"update": {"angle": {"value": 270}, "baseline": {"value": "top"}}}}}},
  "size": {"field": "neglogP", "type": "quantitative",
    "scale": {"domain": [0, 30], "range": [20, 200]},
    "legend": {"title": "-log(P)", "orient": "none", "legendX": 304, "legendY": 9.3, "values": [6, 12, 18, 24, 30], "symbolFillColor": "#808080", "symbolStrokeWidth": 0, "symbolOpacity": 1, "symbolType": "circle", "labelFontSize": 17, "titleFontSize": 17, "titleAnchor": "middle", "titlePadding": 8, "rowPadding": 10.6, "symbolOffset": 8, "labelOffset": 25, "padding": 11, "strokeColor": "#d0d0d0", "fillColor": "white", "cornerRadius": 4}}
}
}
